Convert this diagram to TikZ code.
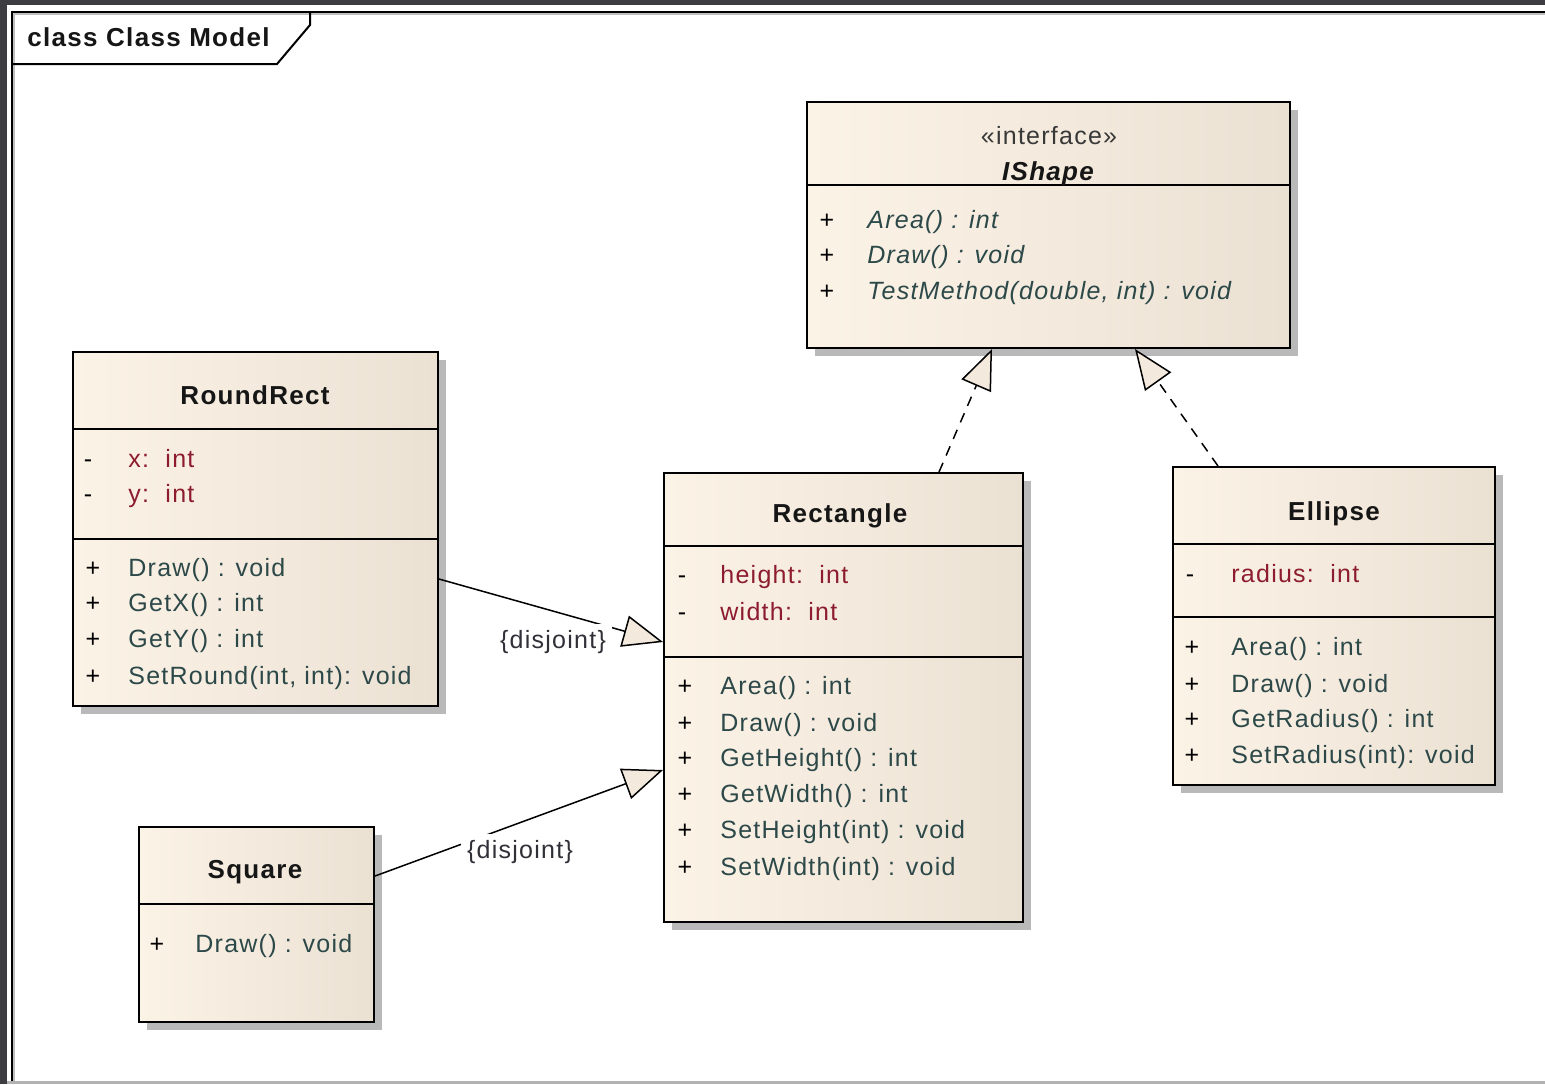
\documentclass[tikz,border=0pt]{standalone}
\usepackage{fontspec}
\setmainfont[LetterSpace=5]{Liberation Sans}
\usetikzlibrary{arrows.meta,fit}

\definecolor{frameout}{HTML}{3D3D41}
\definecolor{boxL}{HTML}{FCF3E7}
\definecolor{boxR}{HTML}{EBE1D3}
\definecolor{shadowc}{HTML}{B9B9B9}
\definecolor{methodc}{HTML}{2C4848}
\definecolor{attrc}{HTML}{8C1C2E}
\definecolor{titlec}{HTML}{161616}
\definecolor{tric}{HTML}{F3EADD}
\definecolor{labelc}{HTML}{303038}

\newcommand\memberfont{\fontsize{12.5}{15}\selectfont}
\newcommand\titlefont{\fontsize{13}{16}\selectfont\bfseries}

% class box: name, left, top, right, bottom (pixel units, y grows downwards)
\newcommand\umlclass[5]{%
  \fill[shadowc] (#2+8,#3+8) rectangle (#4+8,#5+8);
  \node[classbox, fit={(#2,#3) (#4,#5)}] (#1) {};}

\begin{document}
\begin{tikzpicture}[x=0.5pt,y=-0.5pt,
  classbox/.style={draw=black, line width=1pt, inner sep=0pt, left color=boxL, right color=boxR},
  divider/.style={line width=0.8pt},
  member/.style={anchor=base west, inner sep=0pt, font=\memberfont, text=methodc},
  attr/.style={member, text=attrc},
  vis/.style={anchor=base, inner sep=0pt, font=\memberfont, text=black},
  ctitle/.style={anchor=base, inner sep=0pt, font=\titlefont, text=titlec},
  stereo/.style={anchor=base, inner sep=0pt, font=\memberfont, text=titlec!85},
  constraint/.style={anchor=base, inner sep=3pt, fill=white, font=\memberfont, text=labelc},
  realize/.style={line width=0.75pt, dash pattern=on 5pt off 4pt,
    -{Triangle[length=20pt,width=16pt,fill=tric]}},
  general/.style={line width=0.75pt, -{Triangle[length=20pt,width=16pt,fill=tric]}}]
\useasboundingbox (0,0) rectangle (1545,1084);

% window edge and diagram frame
\fill[frameout] (0,0) rectangle (1545,1084);
\fill[white] (7,5) rectangle (1545,1081);
\fill[gray!60] (7,1081) rectangle (1545,1084);
\draw[gray!50, line width=1pt] (14,1081) -- (14,14) -- (1545,14);
\draw[line width=1pt] (12,1081) -- (12,12) -- (1545,12);
\draw[line width=1pt] (12,64) -- (277,64) -- (310,25) -- (310,12);
\node[anchor=base west, inner sep=0pt, font=\titlefont, text=titlec] (frametitle) at (27,46) {class Class Model};

% IShape
\umlclass{ishape}{807}{102}{1290}{348}
\draw[divider] (807,185) -- (1290,185);
\node[stereo] (ishape-st) at (1049,144) {«interface»};
\node[ctitle, font=\titlefont\itshape] (ishape-t) at (1048,180) {IShape};
\node[vis] (ishape-v1) at (827,228) {+};
\node[vis] (ishape-v2) at (827,263) {+};
\node[vis] (ishape-v3) at (827,299) {+};
\node[member, font=\memberfont\itshape] (ishape-m1) at (867,228) {Area() : int};
\node[member, font=\memberfont\itshape] (ishape-m2) at (867,263) {Draw() : void};
\node[member, font=\memberfont\itshape] (ishape-m3) at (867,299) {TestMethod(double, int) : void};

% RoundRect
\umlclass{roundrect}{73}{352}{438}{706}
\draw[divider] (73,429) -- (438,429);
\draw[divider] (73,539) -- (438,539);
\node[ctitle] (roundrect-t) at (255,404) {RoundRect};
\node[vis] (roundrect-v1) at (88,467) {-};
\node[vis] (roundrect-v2) at (88,502) {-};
\node[attr] (roundrect-a1) at (128,467) {x:\ \ int};
\node[attr] (roundrect-a2) at (128,502) {y:\ \ int};
\node[vis] (roundrect-v3) at (93,576) {+};
\node[vis] (roundrect-v4) at (93,611) {+};
\node[vis] (roundrect-v5) at (93,647) {+};
\node[vis] (roundrect-v6) at (93,684) {+};
\node[member] (roundrect-m1) at (128,576) {Draw() : void};
\node[member] (roundrect-m2) at (128,611) {GetX() : int};
\node[member] (roundrect-m3) at (128,647) {GetY() : int};
\node[member] (roundrect-m4) at (128,684) {SetRound(int, int): void};

% Rectangle
\umlclass{rect}{664}{473}{1023}{922}
\draw[divider] (664,546) -- (1023,546);
\draw[divider] (664,657) -- (1023,657);
\node[ctitle] (rect-t) at (840,522) {Rectangle};
\node[vis] (rect-v1) at (682,583) {-};
\node[vis] (rect-v2) at (682,620) {-};
\node[attr] (rect-a1) at (720,583) {height:\ \ int};
\node[attr] (rect-a2) at (720,620) {width:\ \ int};
\node[vis] (rect-v3) at (685,694) {+};
\node[vis] (rect-v4) at (685,731) {+};
\node[vis] (rect-v5) at (685,766) {+};
\node[vis] (rect-v6) at (685,802) {+};
\node[vis] (rect-v7) at (685,838) {+};
\node[vis] (rect-v8) at (685,875) {+};
\node[member] (rect-m1) at (720,694) {Area() : int};
\node[member] (rect-m2) at (720,731) {Draw() : void};
\node[member] (rect-m3) at (720,766) {GetHeight() : int};
\node[member] (rect-m4) at (720,802) {GetWidth() : int};
\node[member] (rect-m5) at (720,838) {SetHeight(int) : void};
\node[member] (rect-m6) at (720,875) {SetWidth(int) : void};

% Ellipse
\umlclass{ellipse}{1173}{467}{1495}{785}
\draw[divider] (1173,544) -- (1495,544);
\draw[divider] (1173,617) -- (1495,617);
\node[ctitle] (ellipse-t) at (1334,520) {Ellipse};
\node[vis] (ellipse-v1) at (1190,582) {-};
\node[attr] (ellipse-a1) at (1231,582) {radius:\ \ int};
\node[vis] (ellipse-v2) at (1192,655) {+};
\node[vis] (ellipse-v3) at (1192,692) {+};
\node[vis] (ellipse-v4) at (1192,727) {+};
\node[vis] (ellipse-v5) at (1192,763) {+};
\node[member] (ellipse-m1) at (1231,655) {Area() : int};
\node[member] (ellipse-m2) at (1231,692) {Draw() : void};
\node[member] (ellipse-m3) at (1231,727) {GetRadius() : int};
\node[member] (ellipse-m4) at (1231,763) {SetRadius(int): void};

% Square
\umlclass{square}{139}{827}{374}{1022}
\draw[divider] (139,904) -- (374,904);
\node[ctitle] (square-t) at (255,878) {Square};
\node[vis] (square-v1) at (157,952) {+};
\node[member] (square-m1) at (195,952) {Draw() : void};

% realizations of IShape
\draw[realize] ([xshift=138pt]rect.north west) -- ([xshift=93pt]ishape.south west);
\draw[realize] ([xshift=23pt]ellipse.north west) -- ([xshift=164.5pt]ishape.south west);

% generalizations of Rectangle
\draw[general] ([yshift=-114pt]roundrect.north east) -- ([yshift=-85pt]rect.north west);
\draw[general] ([yshift=-25pt]square.north east) -- ([yshift=-149pt]rect.north west);
\node[constraint] (disjoint-a) at (553,648) {\{disjoint\}};
\node[constraint] (disjoint-b) at (520,858) {\{disjoint\}};
\end{tikzpicture}
\end{document}
